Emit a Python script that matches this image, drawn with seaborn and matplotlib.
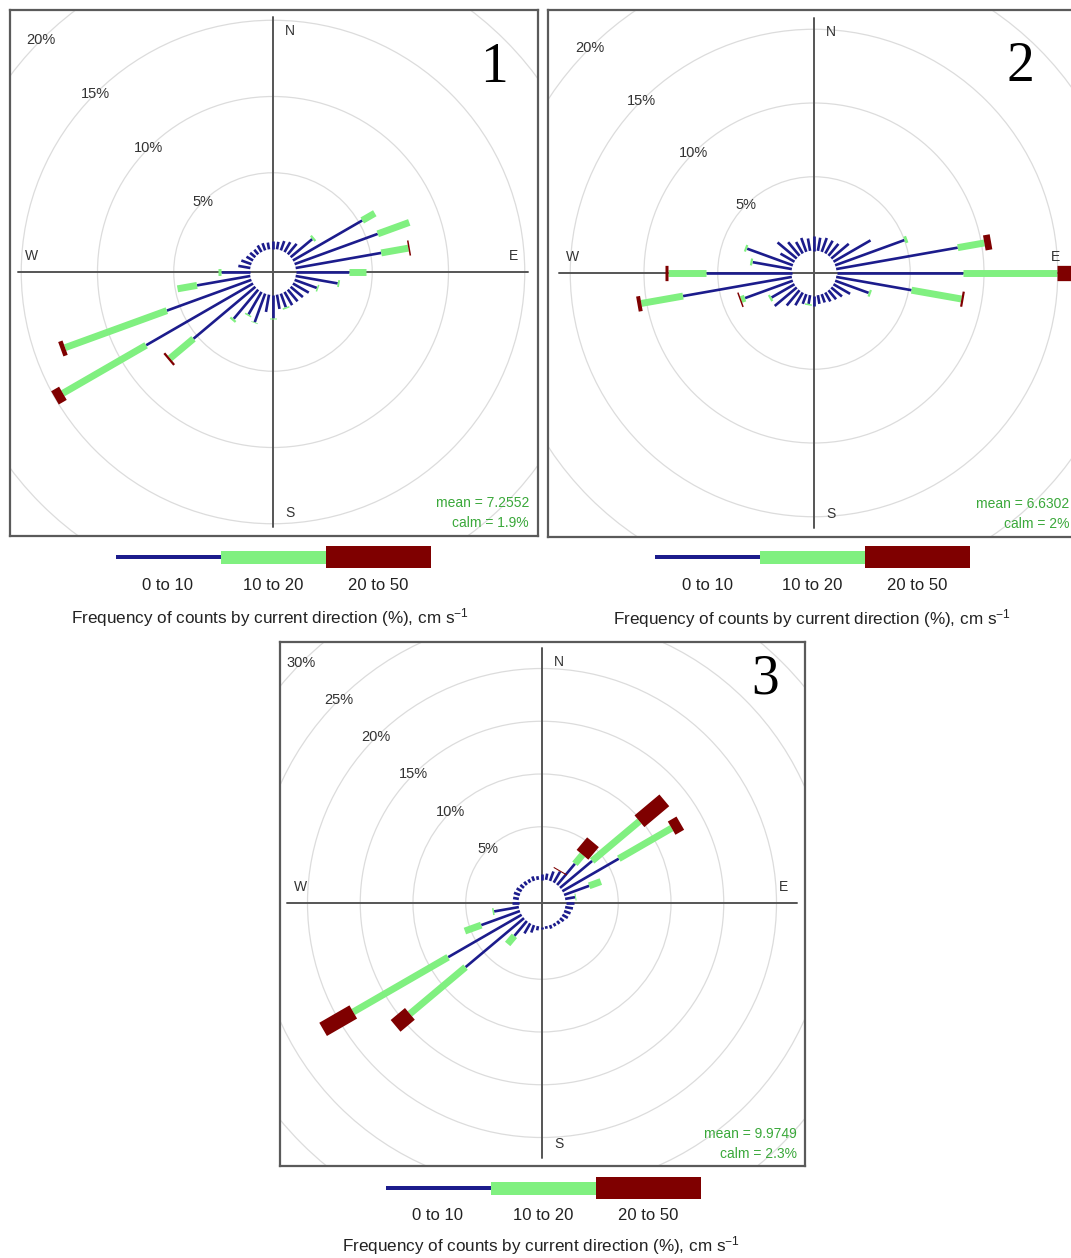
import numpy as np
import matplotlib
matplotlib.use("Agg")
import matplotlib.pyplot as plt
from matplotlib.patches import Circle, Rectangle
import seaborn as sns

sns.set_style("white")
plt.rcParams["font.family"] = ["Liberation Sans", "DejaVu Sans"]
plt.rcParams["mathtext.default"] = "regular"

# current direction sectors (degrees, clockwise from N)
directions = np.arange(10, 370, 10)

p1_0_10 = [0.5, 0.65, 0.75, 0.9, 1.85, 5.25, 5.8, 5.7, 3.5, 2.8, 1.55, 1.2,
           1.05, 1.0, 1.0, 0.95, 0.95, 1.5, 1.15, 2.0, 1.7, 2.5, 5.3, 8.1,
           5.9, 3.55, 1.9, 0.8, 0.7, 0.5, 0.45, 0.4, 0.5, 0.5, 0.45, 0.5]
p1_10_20 = [0, 0, 0, 0, 0.15, 0.95, 2.2, 1.8, 1.1, 0.12, 0.1, 0,
            0, 0, 0, 0.1, 0, 0.1, 0, 0.05, 0.1, 0.15, 2.0, 6.3,
            7.1, 1.3, 0.2, 0, 0, 0, 0, 0, 0, 0, 0, 0]
p1_20_50 = [0, 0, 0, 0, 0, 0, 0, 0.1, 0, 0, 0, 0,
            0, 0, 0, 0, 0, 0, 0, 0, 0, 0, 0.15, 0.6,
            0.3, 0, 0, 0, 0, 0, 0, 0, 0, 0, 0, 0]

p2_0_10 = [0.9, 1.0, 1.0, 1.05, 1.55, 2.9, 5.0, 8.37, 8.58, 5.19, 2.42, 1.3,
           0.95, 0.8, 0.7, 0.6, 0.6, 0.7, 0.6, 0.7, 1.0, 1.35, 1.95, 1.8,
           3.45, 7.49, 5.78, 2.7, 3.3, 1.1, 1.7, 1.2, 0.9, 1.0, 0.85, 0.95]
p2_10_20 = [0, 0, 0, 0, 0, 0, 0.2, 1.83, 6.4, 3.43, 0.15, 0,
            0, 0, 0, 0, 0, 0, 0.1, 0, 0, 0, 0, 0.15,
            0.28, 2.87, 2.59, 0.15, 0.15, 0, 0, 0, 0, 0, 0, 0]
p2_20_50 = [0, 0, 0, 0, 0, 0, 0, 0.46, 1.1, 0.15, 0, 0,
            0, 0, 0, 0, 0, 0, 0, 0, 0, 0, 0, 0,
            0.1, 0.27, 0.2, 0, 0, 0, 0, 0, 0, 0, 0, 0]

p3_0_10 = [0.6, 0.95, 1.2, 2.63, 3.98, 6.18, 2.53, 0.95, 0.8, 0.75, 0.65, 0.6,
           0.45, 0.35, 0.3, 0.35, 0.25, 0.25, 0.4, 0.75, 1.1, 1.84, 7.23, 8.05,
           3.9, 2.38, 0.6, 0.55, 0.6, 0.55, 0.45, 0.4, 0.35, 0.45, 0.35, 0.5]
p3_10_20 = [0, 0, 0, 1.11, 5.85, 5.78, 1.18, 0.1, 0, 0, 0, 0,
            0, 0, 0, 0, 0, 0, 0, 0, 0, 1.0, 6.89, 10.38,
            1.65, 0.15, 0, 0, 0, 0, 0, 0, 0, 0, 0, 0]
p3_20_50 = [0, 0, 0.1, 1.55, 3.08, 0.95, 0, 0, 0, 0, 0, 0,
            0, 0, 0, 0, 0, 0, 0, 0, 0, 0, 1.77, 3.3,
            0, 0, 0, 0, 0, 0, 0, 0, 0, 0, 0, 0]

speed_bins = ["0 to 10", "10 to 20", "20 to 50"]
panel_ids = ["1", "2", "3"]
mean_speeds = ["7.2552", "6.6302", "9.9749"]
calm_pcts = ["1.9%", "2%", "2.3%"]
ring_pcts = [[5, 10, 15, 20], [5, 10, 15, 20], [5, 10, 15, 20, 25, 30]]

colors = ["#1c1c8c", "#80f080", "#7f0000"]
widths = [1.9, 5.0, 11.0]
green_txt = "#3aa83a"

W, H = 1071, 1258
fig = plt.figure(figsize=(W / 100, H / 100), dpi=100)

# layout in pixels: frame box, rose centre, px per %, hole radius px
boxes = [(10, 10, 538, 536), (548, 10, 1080, 537), (280, 642, 805, 1166)]
centres = [(273, 272), (814, 273), (542, 903)]
px_per_pct = [15.25, 14.75, 10.55]
hole_px = [23, 22.5, 23.5]
legend_x0 = [116, 655, 386]
legend_y = [557, 557, 1188]
title_dy = [61, 62, 58]

panels = [(p1_0_10, p1_10_20, p1_20_50),
          (p2_0_10, p2_10_20, p2_20_50),
          (p3_0_10, p3_10_20, p3_20_50)]

for i, bands in enumerate(panels):
    x0, y0, x1, y1 = boxes[i]
    cx, cy = centres[i]
    k = px_per_pct[i]
    off = hole_px[i] / k
    ax = fig.add_axes([x0 / W, 1 - y1 / H, (x1 - x0) / W, (y1 - y0) / H])
    ax.set_xlim((x0 - cx) / k, (x1 - cx) / k)
    ax.set_ylim((cy - y1) / k, (cy - y0) / k)
    ax.set_aspect("auto")
    ax.set_xticks([])
    ax.set_yticks([])
    for s in ax.spines.values():
        s.set_color("#5a5a5a")
        s.set_linewidth(1.6)

    # grid circles
    for p in range(5, 45, 5):
        ax.add_patch(Circle((0, 0), off + p, fill=False, ec="#dcdcdc", lw=0.9, zorder=1))
    R = 255 / k
    ax.plot([-R, R], [0, 0], color="#555555", lw=1.4, zorder=2)
    ax.plot([0, 0], [-R, R], color="#555555", lw=1.4, zorder=2)

    # paddles
    theta = np.deg2rad(directions)
    start = np.full(len(directions), off)
    for j, vals in enumerate(bands):
        vals = np.asarray(vals, dtype=float)
        end = start + vals
        for t, a, b in zip(theta, start, end):
            if b - a <= 0:
                continue
            ax.plot([a * np.sin(t), b * np.sin(t)], [a * np.cos(t), b * np.cos(t)],
                    color=colors[j], lw=widths[j], solid_capstyle="butt", zorder=3 + j)
        start = end

    # ring labels along the NW diagonal
    for p in ring_pcts[i]:
        r = off + p
        ax.text(-r * np.sin(np.pi / 4), r * np.cos(np.pi / 4), f"{p}%",
                ha="center", va="center", fontsize=10.5, color="#333333", zorder=6)

    # compass labels
    d = 241 / k
    s = 17 / k
    ax.text(s, d, "N", ha="center", va="center", fontsize=10, color="#333333")
    ax.text(s, -d, "S", ha="center", va="center", fontsize=10, color="#333333")
    ax.text(d, s - 1 / k, "E", ha="center", va="center", fontsize=10, color="#333333")
    ax.text(-d, s - 1 / k, "W", ha="center", va="center", fontsize=10, color="#333333")

# overlay in pixel coordinates for the free text and legends
ov = fig.add_axes([0, 0, 1, 1])
ov.set_xlim(0, W)
ov.set_ylim(H, 0)
ov.axis("off")

num_pos = [(494, 68), (1020, 67), (765, 679)]
stat_pos = [(529, 503), (1069, 504), (797, 1134)]
title_x = [270, 812, 541]

for i in range(3):
    ov.text(*num_pos[i], panel_ids[i], ha="center", va="center", fontsize=40,
            family="Liberation Serif", color="black")
    sx, sy = stat_pos[i]
    ov.text(sx, sy, f"mean = {mean_speeds[i]}", ha="right", va="center",
            fontsize=10, color=green_txt)
    ov.text(sx, sy + 20, f"calm = {calm_pcts[i]}", ha="right", va="center",
            fontsize=10, color=green_txt)

    # legend key
    lx, ly = legend_x0[i], legend_y[i]
    heights = [3.5, 13, 22]
    for j in range(3):
        ov.add_patch(Rectangle((lx + 105 * j, ly - heights[j] / 2), 105, heights[j],
                               color=colors[j], lw=0))
        ov.text(lx + 105 * j + 52, ly + 28, speed_bins[j], ha="center", va="center",
                fontsize=12, color="#222222")
    ov.text(title_x[i], ly + title_dy[i],
            "Frequency of counts by current direction (%), cm s$^{-1}$",
            ha="center", va="center", fontsize=12.3, color="#222222")

fig.savefig("out.png", dpi=100)
